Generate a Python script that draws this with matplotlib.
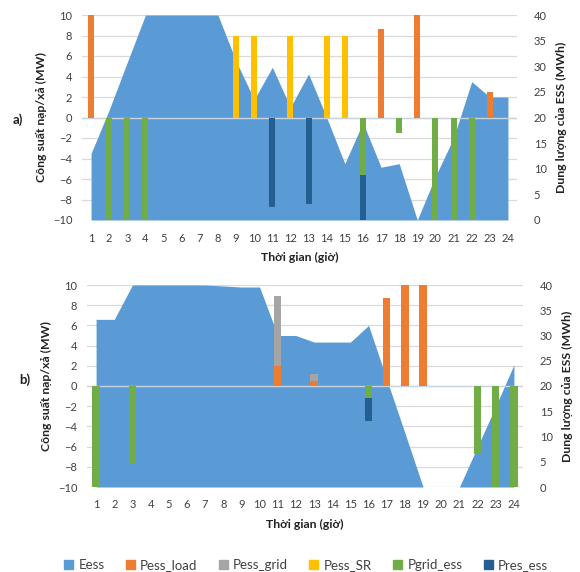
import numpy as np
import matplotlib
matplotlib.use("Agg")
import matplotlib.pyplot as plt
from matplotlib.patches import Patch

plt.rcParams['font.family'] = ['Lato', 'Open Sans', 'DejaVu Sans']

hours = list(range(1, 25))

# chart a)
eess_a = [13, 21.5, 30.8, 40, 40, 40, 40, 40, 31, 23.5, 29.8, 22,
          28.5, 20, 11, 19, 10.3, 11, 0, 8.5, 16, 27, 24, 24]
pess_load_a = [10, 0, 0, 0, 0, 0, 0, 0, 0, 0, 0, 0,
               0, 0, 0, 0, 8.6, 0, 10, 0, 0, 0, 2.5, 0]
pess_grid_a = [0] * 24
pess_sr_a = [0, 0, 0, 0, 0, 0, 0, 0, 8, 8, 0, 8,
             0, 8, 8, 0, 0, 0, 0, 0, 0, 0, 0, 0]
pgrid_ess_a = [0, -10, -10, -10, 0, 0, 0, 0, 0, 0, 0, 0,
               0, 0, 0, -5.6, 0, -1.5, 0, -10, -10, -10, 0, 0]
pres_ess_a = [0, 0, 0, 0, 0, 0, 0, 0, 0, 0, -8.7, 0,
              -8.4, 0, 0, -4.4, 0, 0, 0, 0, 0, 0, 0, 0]

# chart b)
eess_b = [33.2, 33.2, 40, 40, 40, 40, 40, 39.8, 39.6, 39.6, 30, 30,
          28.7, 28.7, 28.7, 32, 21.3, 10.7, 0, 0, 0, 8, 16, 24.2]
pess_load_b = [0, 0, 0, 0, 0, 0, 0, 0, 0, 0, 2, 0,
               0.5, 0, 0, 0, 8.7, 10, 10, 0, 0, 0, 0, 0]
pess_grid_b = [0, 0, 0, 0, 0, 0, 0, 0, 0, 0, 6.9, 0,
               0.7, 0, 0, 0, 0, 0, 0, 0, 0, 0, 0, 0]
pess_sr_b = [0] * 24
pgrid_ess_b = [-10, 0, -7.6, 0, 0, 0, 0, 0, 0, 0, 0, 0,
               0, 0, 0, -1.2, 0, 0, 0, 0, 0, -6.7, -10, -10]
pres_ess_b = [0, 0, 0, 0, 0, 0, 0, 0, 0, 0, 0, 0,
              0, 0, 0, -2.3, 0, 0, 0, 0, 0, 0, 0, 0]

names = ['Eess', 'Pess_load', 'Pess_grid', 'Pess_SR', 'Pgrid_ess', 'Pres_ess']
colors = ['#5B9BD5', '#ED7D31', '#A5A5A5', '#FFC000', '#70AD47', '#255E91']
grid_c = '#D9D9D9'
txt_c = '#404040'
tick_fs = 8
lab_fs = 8.8


def panel(fig, rect, eess, pos_series, neg_series, bar_w, tag, tag_xy, ylab_x):
    # background axes: left ticks + gridlines
    ax = fig.add_axes(rect)
    ax.set_xlim(0.5, 24.5)
    ax.set_ylim(-10, 10)
    ax.set_yticks(range(-10, 11, 2))
    ax.set_xticks(hours)
    ax.grid(axis='y', color=grid_c, lw=0.9)
    ax.tick_params(length=0, labelsize=tick_fs, labelcolor=txt_c)
    ax.tick_params(axis='y', pad=7)
    ax.tick_params(axis='x', pad=9)
    for s in ax.spines.values():
        s.set_visible(False)
    ax.set_xlabel('Thời gian (giờ)', fontsize=lab_fs, fontweight='bold', labelpad=6, color='#222222')
    ax.set_ylabel('Công suất nạp/xả (MW)', fontsize=lab_fs, fontweight='bold', color='#222222')
    ax.yaxis.set_label_coords(ylab_x, 0.5)

    # secondary axis: stored energy area
    ax2 = ax.twinx()
    ax2.set_ylim(0, 40)
    ax2.set_yticks(range(0, 41, 5))
    ax2.fill_between(hours, 0, eess, color=colors[0], lw=0)
    ax2.tick_params(length=0, labelsize=tick_fs, labelcolor=txt_c, pad=12)
    for s in ax2.spines.values():
        s.set_visible(False)
    ax2.set_ylabel('Dung lượng của ESS (MWh)', fontsize=lab_fs, fontweight='bold',
                   color='#222222', labelpad=7)

    # top axes: stacked bars
    ax3 = fig.add_axes(rect, sharex=ax, sharey=ax)
    ax3.patch.set_visible(False)
    ax3.axis('off')
    bottom = np.zeros(24)
    for vals, c in pos_series:
        ax3.bar(hours, vals, bar_w, bottom=bottom, color=c, lw=0)
        bottom += np.array(vals)
    bottom = np.zeros(24)
    for vals, c in neg_series:
        ax3.bar(hours, vals, bar_w, bottom=bottom, color=c, lw=0)
        bottom += np.array(vals)
    ax3.axhline(0, color='#C8D3E0', lw=1.0, zorder=0.5)

    ax.set_zorder(1)
    ax2.set_zorder(2)
    ax3.set_zorder(3)

    fig.text(tag_xy[0], tag_xy[1], tag, fontsize=9.5, fontweight='bold',
             ha='center', va='center', color='#222222')


fig = plt.figure(figsize=(5.8, 5.72), dpi=100)
W, H = 580, 572

panel(fig, [82 / W, 1 - 220 / H, 435 / W, 205 / H], eess_a,
      [(pess_load_a, colors[1]), (pess_grid_a, colors[2]), (pess_sr_a, colors[3])],
      [(pgrid_ess_a, colors[4]), (pres_ess_a, colors[5])],
      0.33, 'a)', (18 / W, 1 - 120 / H), -0.08)

panel(fig, [87 / W, 1 - 487 / H, 436 / W, 202 / H], eess_b,
      [(pess_load_b, colors[1]), (pess_grid_b, colors[2]), (pess_sr_b, colors[3])],
      [(pgrid_ess_b, colors[4]), (pres_ess_b, colors[5])],
      0.4, 'b)', (25 / W, 1 - 380 / H), -0.08)

handles = [Patch(color=c) for c in colors]
fig.legend(handles, names, loc='center', bbox_to_anchor=(306 / W, 1 - 565 / H),
           ncol=6, frameon=False, fontsize=9.5, handlelength=0.7, handleheight=0.7,
           handletextpad=0.4, columnspacing=1.6, labelcolor=txt_c)

fig.savefig('out.png', dpi=100)
